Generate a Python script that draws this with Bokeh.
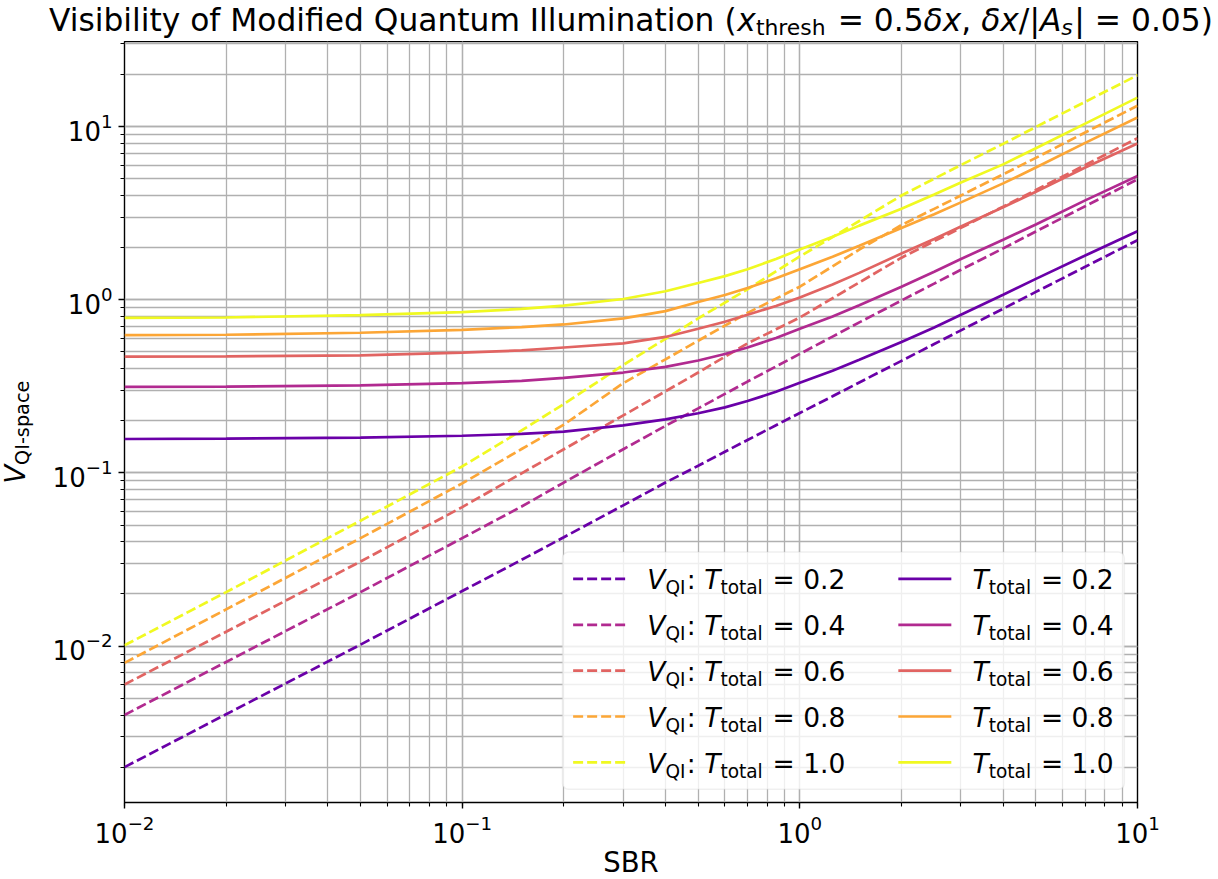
import math
from bokeh.plotting import figure
from bokeh.layouts import column, row
from bokeh.models import Label, BoxAnnotation, Arrow, Range1d
from bokeh.embed import file_html
from bokeh.resources import INLINE

# ---------------- data ----------------
sbr = [0.01, 0.02, 0.05, 0.1, 0.15, 0.2, 0.3, 0.4, 0.5, 0.6, 0.7, 0.85, 1, 1.25, 1.5, 2, 2.5, 3, 4, 5, 7, 10]
t_values = ["0.2", "0.4", "0.6", "0.8", "1.0"]
colors = ["#6a00a8", "#b12a90", "#e16462", "#fca636", "#f0f921"]

# V_QI (dashed)
v_qi_t02 = [0.002, 0.00404, 0.0102, 0.0208, 0.0315, 0.0425, 0.065, 0.088, 0.11, 0.1325, 0.155, 0.1885, 0.222, 0.277, 0.333, 0.444, 0.555, 0.666, 0.888, 1.11, 1.55, 2.21]
v_qi_t04 = [0.004, 0.0081, 0.0205, 0.042, 0.064, 0.088, 0.137, 0.187, 0.236, 0.286, 0.337, 0.412, 0.487, 0.613, 0.74, 0.99, 1.24, 1.49, 1.98, 2.48, 3.47, 4.96]
v_qi_t06 = [0.006, 0.0121, 0.0308, 0.0635, 0.0995, 0.137, 0.215, 0.296, 0.38, 0.469, 0.56, 0.675, 0.79, 1.02, 1.26, 1.75, 2.18, 2.6, 3.45, 4.3, 6.0, 8.57]
v_qi_t08 = [0.008, 0.0163, 0.042, 0.087, 0.1375, 0.19, 0.33, 0.453, 0.58, 0.709, 0.84, 1.015, 1.19, 1.56, 1.95, 2.7, 3.35, 4.0, 5.3, 6.6, 9.25, 13.2]
v_qi_t10 = [0.0101, 0.0205, 0.053, 0.109, 0.176, 0.25, 0.42, 0.595, 0.78, 0.963, 1.15, 1.46, 1.78, 2.3, 2.85, 4.0, 5.0, 6.0, 7.95, 9.95, 13.9, 19.8]

# V_QI-space (solid)
v_sp_t02 = [0.157, 0.158, 0.16, 0.164, 0.168, 0.173, 0.188, 0.204, 0.221, 0.239, 0.26, 0.294, 0.332, 0.389, 0.45, 0.57, 0.692, 0.82, 1.07, 1.32, 1.8, 2.49]
v_sp_t04 = [0.314, 0.315, 0.32, 0.33, 0.34, 0.354, 0.38, 0.41, 0.446, 0.486, 0.53, 0.602, 0.68, 0.80, 0.93, 1.19, 1.45, 1.72, 2.22, 2.72, 3.75, 5.19]
v_sp_t06 = [0.47, 0.471, 0.478, 0.495, 0.51, 0.53, 0.56, 0.61, 0.68, 0.747, 0.82, 0.921, 1.03, 1.225, 1.43, 1.85, 2.245, 2.65, 3.42, 4.2, 5.8, 7.98]
v_sp_t08 = [0.625, 0.628, 0.645, 0.67, 0.695, 0.72, 0.78, 0.86, 0.97, 1.066, 1.17, 1.33, 1.5, 1.77, 2.05, 2.6, 3.12, 3.65, 4.7, 5.8, 8.05, 11.3]
v_sp_t10 = [0.787, 0.79, 0.815, 0.848, 0.885, 0.925, 1.01, 1.12, 1.25, 1.37, 1.5, 1.72, 1.95, 2.31, 2.68, 3.35, 4.05, 4.75, 6.05, 7.5, 10.4, 14.7]

v_qi = [v_qi_t02, v_qi_t04, v_qi_t06, v_qi_t08, v_qi_t10]
v_sp = [v_sp_t02, v_sp_t04, v_sp_t06, v_sp_t08, v_sp_t10]

# ---------------- geometry (canvas pixels) ----------------
W_CANVAS, H_CANVAS = 1218, 879
FL, FR, FT, FB = 124, 1137, 41, 802     # plot frame edges
YLAB_W = 46                              # strip holding the y label

# ---------------- main figure ----------------
p = figure(frame_width=FR - FL, frame_height=FB - FT,
           x_axis_type="log", y_axis_type="log",
           x_range=(0.01, 10), y_range=(1.25e-3, 31.0),
           output_backend="svg", toolbar_location=None, title=None,
           min_border_left=FL - YLAB_W, min_border_right=W_CANVAS - FR,
           min_border_top=0, min_border_bottom=H_CANVAS - FB)
p.background_fill_color = "white"
p.border_fill_color = "white"
p.outline_line_color = "black"
p.outline_line_width = 1.4

for ax in (p.xaxis[0], p.yaxis[0]):
    ax.axis_line_color = None
    ax.major_tick_line_color = "black"
    ax.major_tick_line_width = 1.4
    ax.major_tick_out = 6
    ax.major_tick_in = 0
    ax.minor_tick_line_color = "black"
    ax.minor_tick_line_width = 1.1
    ax.minor_tick_out = 4
    ax.minor_tick_in = 0
    ax.major_label_text_font = "DejaVu Sans"
    ax.major_label_text_font_size = "26px"
    ax.major_label_text_color = "black"
    ax.major_label_standoff = 6

p.xaxis[0].axis_label = "SBR"
p.xaxis[0].axis_label_text_font = "DejaVu Sans"
p.xaxis[0].axis_label_text_font_size = "27.5px"
p.xaxis[0].axis_label_text_font_style = "normal"
p.xaxis[0].axis_label_text_color = "black"
p.xaxis[0].axis_label_standoff = 0

for g in (p.xgrid[0], p.ygrid[0]):
    g.grid_line_color = "#b0b0b0"
    g.grid_line_width = 1.3
    g.minor_grid_line_color = "#b0b0b0"
    g.minor_grid_line_width = 1.3

LW = 2.7
DASH = "10 4"
for i in range(5):
    p.line(sbr, v_qi[i], line_color=colors[i], line_width=LW, line_dash=DASH)
for i in range(5):
    p.line(sbr, v_sp[i], line_color=colors[i], line_width=LW)


# ---------------- helper strips for title and y label ----------------
def blank_fig(w, h):
    f = figure(width=w, height=h, x_range=Range1d(0, 1), y_range=Range1d(0, 1),
               output_backend="svg", toolbar_location=None, title=None,
               x_axis_location=None, y_axis_location=None, min_border=0)
    f.outline_line_color = None
    f.background_fill_color = "white"
    f.border_fill_color = "white"
    f.xgrid.visible = False
    f.ygrid.visible = False
    return f


title_fig = blank_fig(W_CANVAS, FT)
ylab_fig = blank_fig(YLAB_W, H_CANVAS - FT)

# ---------------- text helpers (DejaVu Sans advance widths / 2048) ----------------
ADV = {' ': 651, '\u00a0': 651, '(': 799, ')': 799, ',': 651, '-': 739, '.': 651, '/': 690,
       ':': 690, '=': 1716, '|': 690, 'A': 1401, 'B': 1405, 'I': 604, 'M': 1767,
       'Q': 1612, 'R': 1423, 'S': 1300, 'T': 1251, 'V': 1401, 'a': 1255, 'b': 1300,
       'c': 1126, 'd': 1300, 'e': 1260, 'f': 721, 'h': 1298, 'i': 569, 'l': 569,
       'm': 1995, 'n': 1298, 'o': 1253, 'p': 1300, 'r': 842, 's': 1067, 't': 803,
       'u': 1298, 'x': 1212, 'y': 1212, '\u03b4': 1253}
for d in "0123456789":
    ADV[d] = 1303

BASE_K = 0.33      # observed offset of the rendered baseline below the anchor (in em)
ROT_DX, ROT_DY = -6.0, 84.0   # observed extra offset of rotated labels in the y-label strip


def text_w(s, size):
    return sum(ADV.get(c, 1200) for c in s) / 2048.0 * size


def add_text(fig, ox, oy, cx, cy, text, size, italic=False, rotated=False):
    # (cx, cy): wanted start of the text baseline in canvas pixels
    # (ox, oy): canvas position of the frame's left and bottom edges of `fig`
    if rotated:
        ax_, ay_ = cx - BASE_K * size + ROT_DX, cy + ROT_DY
        ang = math.pi / 2
    else:
        ax_, ay_ = cx, cy - BASE_K * size
        ang = 0.0
    fig.add_layout(Label(x=ax_ - ox, y=oy - ay_, x_units="screen", y_units="screen",
                         text=text.replace(" ", "\u00a0"), text_font="DejaVu Sans",
                         text_font_size="%.2fpx" % size,
                         text_font_style="italic" if italic else "normal",
                         text_color="black", text_align="left",
                         text_baseline="alphabetic", angle=ang))


def pieces_width(pieces, size):
    w = 0.0
    for text, italic, small in pieces:
        fs = size * 0.7 if small else size
        w += text_w(text, fs) + (0.05 * size if small else 0.0)
    return w


def compose(fig, ox, oy, pieces, x0, y0, size, sub_frac=0.2, rotated=False):
    pos = 0.0
    sub = sub_frac * size
    for text, italic, small in pieces:
        fs = size * 0.7 if small else size
        dy = sub if small else 0.0
        if rotated:
            add_text(fig, ox, oy, x0 + dy, y0 - pos, text, fs, italic, rotated=True)
        else:
            add_text(fig, ox, oy, x0 + pos, y0 + dy, text, fs, italic)
        pos += text_w(text, fs) + (0.05 * size if small else 0.0)


# ---------------- title ----------------
TITLE_FS = 31.3
title_pieces = [
    ("Visibility of Modified Quantum Illumination (", False, False),
    ("x", True, False),
    ("thresh", False, True),
    (" = 0.5", False, False),
    ("\u03b4x", True, False),
    (", ", False, False),
    ("\u03b4x", True, False),
    ("/|", False, False),
    ("A", True, False),
    ("s", True, True),
    ("| = 0.05)", False, False),
]
tw = pieces_width(title_pieces, TITLE_FS)
compose(title_fig, 0, FT, title_pieces, (FL + FR) / 2.0 - tw / 2.0, 29.5, TITLE_FS,
        sub_frac=0.16)

# ---------------- y label ----------------
YLAB_FS = 27.5
ylab = [("V", True, False), ("QI-space", False, True)]
yw = pieces_width(ylab, YLAB_FS)
compose(ylab_fig, 0, H_CANVAS, ylab, 30, 425 + yw / 2.0, YLAB_FS,
        sub_frac=0.15, rotated=True)

# ---------------- legend ----------------
LEG_FS = 26.5
pad = 0.4 * LEG_FS
handle = 2.0 * LEG_FS
htpad = 0.8 * LEG_FS
colsp = 2.0 * LEG_FS
row_gap = 0.5 * LEG_FS
row_h = 32.6

col1 = [[("V", True, False), ("QI", False, True), (": ", False, False),
         ("T", True, False), ("total", False, True), (" = " + t, False, False)] for t in t_values]
col2 = [[("T", True, False), ("total", False, True), (" = " + t, False, False)] for t in t_values]
w1 = max(pieces_width(c, LEG_FS) for c in col1)
w2 = max(pieces_width(c, LEG_FS) for c in col2)

box_right = FR - 0.5 * LEG_FS
box_bottom = FB - 0.5 * LEG_FS
box_w = 2 * pad + handle + htpad + w1 + colsp + handle + htpad + w2
box_h = 2 * pad + 5 * row_h + 4 * row_gap
box_left = box_right - box_w
box_top = box_bottom - box_h

p.add_layout(BoxAnnotation(left=box_left - FL, right=box_right - FL,
                           top=FB - box_top, bottom=FB - box_bottom,
                           left_units="screen", right_units="screen",
                           top_units="screen", bottom_units="screen",
                           fill_color="white", fill_alpha=0.8,
                           line_color="#cccccc", line_width=1.6,
                           border_radius=6))

c1_handle = box_left + pad
c1_text = c1_handle + handle + htpad
c2_handle = c1_text + w1 + colsp
c2_text = c2_handle + handle + htpad

for i in range(5):
    yc = box_top + pad + row_h / 2.0 + i * (row_h + row_gap)
    p.add_layout(Arrow(end=None, x_start=c1_handle - FL, x_end=c1_handle + handle - FL,
                       y_start=FB - yc, y_end=FB - yc,
                       start_units="screen", end_units="screen",
                       line_color=colors[i], line_width=LW, line_dash=DASH))
    p.add_layout(Arrow(end=None, x_start=c2_handle - FL, x_end=c2_handle + handle - FL,
                       y_start=FB - yc, y_end=FB - yc,
                       start_units="screen", end_units="screen",
                       line_color=colors[i], line_width=LW))
    compose(p, FL, FB, col1[i], c1_text, yc + 9.5, LEG_FS)
    compose(p, FL, FB, col2[i], c2_text, yc + 9.5, LEG_FS)

layout = column(title_fig, row(ylab_fig, p, spacing=0), spacing=0)
open("out.html", "w").write(file_html(layout, INLINE))
